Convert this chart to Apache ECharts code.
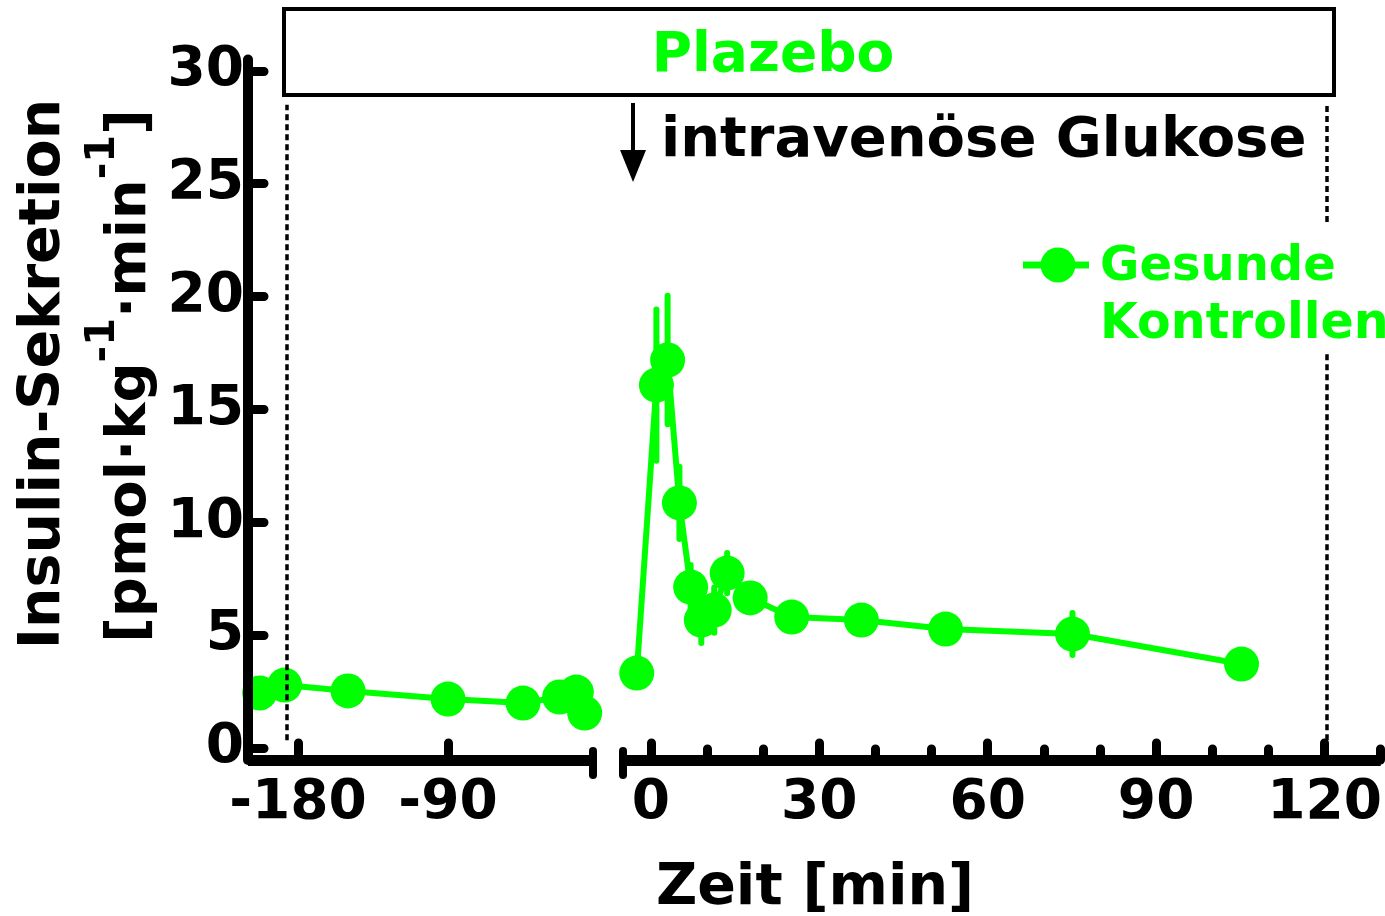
<!DOCTYPE html>
<html>
<head>
<meta charset="utf-8">
<script src="https://cdn.jsdelivr.net/npm/echarts@6/dist/echarts.min.js"></script>
<style>
html,body{margin:0;padding:0;background:#fff;}
#c{width:1385px;height:916px;}
</style>
</head>
<body>
<div id="c"></div>
<script>
// ---- data ----
const leftTime  = [-203, -188, -150, -90, -45, -23, -13, -8];
const leftValue = [2.44, 2.79, 2.53, 2.17, 1.99, 2.26, 2.48, 1.55];
const leftErr   = [0.3, 0.3, 0.3, 0.3, 0.3, 0.3, 0.3, 0.3];
const rightTime  = [-2.5, 1, 3, 5.1, 7.1, 9, 11.3, 13.6, 17.7, 25.1, 37.5, 52.5, 75.1, 105.2];
const rightValue = [3.32, 16.08, 17.19, 10.86, 7.13, 5.67, 6.11, 7.75, 6.65, 5.80, 5.67, 5.27, 5.05, 3.72];
const rightErr   = [0.4, 3.35, 2.85, 1.6, 0.98, 1.02, 1.0, 0.89, 0.5, 0.4, 0.4, 0.4, 0.93, 0.4];
const yTicks = [0, 5, 10, 15, 20, 25, 30];
const leftXTicks = [-180, -90];
const rightXMajor = [0, 30, 60, 90, 120];
const rightXMinor = [10, 20, 40, 50, 70, 80, 100, 110, 130];
const seriesName = 'Gesunde\nKontrollen';

const GREEN = '#00ff00';
const FONT = '"DejaVu Sans", Verdana, sans-serif';

const chart = echarts.init(document.getElementById('c'), null, {renderer: 'canvas'});

function errItem(params, api) {
  const x = api.value(0), y = api.value(1), e = api.value(2);
  const p1 = api.coord([x, y + e]);
  const p2 = api.coord([x, y - e]);
  return {type: 'line', shape: {x1: p1[0], y1: p1[1], x2: p2[0], y2: p2[1]},
          style: {stroke: GREEN, lineWidth: 6, lineCap: 'round'}};
}

const labelStyle = {fontSize: 55, fontWeight: 'bold', fontFamily: FONT, color: '#000'};
const yMin = -0.53, yMax = 30.5;

const option = {
  animation: false,
  backgroundColor: '#fff',
  grid: [
    {left: 248, top: 59.6, width: 345, height: 700.4},
    {left: 622.7, top: 59.6, width: 763.9, height: 700.4}
  ],
  xAxis: [
    {gridIndex: 0, type: 'value', min: -210, max: -3, position: 'bottom',
     axisLine: {onZero: false, lineStyle: {color: '#000', width: 11, cap: 'butt'}},
     axisTick: {inside: true, length: 17, customValues: leftXTicks, lineStyle: {color: '#000', width: 9, cap: 'round'}},
     axisLabel: Object.assign({customValues: leftXTicks, margin: 16}, labelStyle),
     splitLine: {show: false}, z: 5},
    {gridIndex: 1, type: 'value', min: -5, max: 130, position: 'bottom', offset: 0,
     axisLine: {onZero: false, lineStyle: {color: '#000', width: 11, cap: 'butt'}},
     axisTick: {inside: true, length: 17, customValues: rightXMajor, lineStyle: {color: '#000', width: 9, cap: 'round'}},
     axisLabel: Object.assign({customValues: rightXMajor, margin: 16}, labelStyle),
     splitLine: {show: false}, z: 5},
    {gridIndex: 1, type: 'value', min: -5, max: 130, position: 'bottom', offset: 0,
     axisLine: {show: false, onZero: false},
     axisTick: {inside: true, length: 11, customValues: rightXMinor, lineStyle: {color: '#000', width: 9, cap: 'round'}},
     axisLabel: {show: false},
     splitLine: {show: false}, z: 5}
  ],
  yAxis: [
    {gridIndex: 0, type: 'value', min: yMin, max: yMax,
     axisLine: {onZero: false, lineStyle: {color: '#000', width: 10, cap: 'round'}},
     axisTick: {inside: true, length: 16, customValues: yTicks, lineStyle: {color: '#000', width: 9, cap: 'round'}},
     axisLabel: Object.assign({customValues: yTicks, margin: 4}, labelStyle),
     splitLine: {show: false}, z: 5},
    {gridIndex: 1, type: 'value', min: yMin, max: yMax, show: false, splitLine: {show: false}}
  ],
  series: [
    {type: 'custom', xAxisIndex: 0, yAxisIndex: 0, renderItem: errItem, z: 2,
     encode: {x: 0, y: 1}, data: leftTime.map((t, i) => [t, leftValue[i], leftErr[i]])},
    {type: 'custom', xAxisIndex: 1, yAxisIndex: 1, renderItem: errItem, z: 2,
     encode: {x: 0, y: 1}, data: rightTime.map((t, i) => [t, rightValue[i], rightErr[i]])},
    {name: seriesName, type: 'line', xAxisIndex: 0, yAxisIndex: 0, z: 3, clip: false,
     symbol: 'circle', symbolSize: 35,
     lineStyle: {color: GREEN, width: 6}, itemStyle: {color: GREEN},
     data: leftTime.map((t, i) => [t, leftValue[i]]),
     markLine: {silent: true, symbol: 'none', label: {show: false},
       lineStyle: {color: '#000', width: 3.5, type: [6, 4]},
       data: [[{coord: [-187, 0.35]}, {coord: [-187, 28.5]}]]}},
    {name: seriesName, type: 'line', xAxisIndex: 1, yAxisIndex: 1, z: 3, clip: false,
     symbol: 'circle', symbolSize: 35,
     lineStyle: {color: GREEN, width: 6}, itemStyle: {color: GREEN},
     data: rightTime.map((t, i) => [t, rightValue[i]]),
     markLine: {silent: true, symbol: 'none', label: {show: false},
       lineStyle: {color: '#000', width: 3.5, type: [6, 4]},
       data: [[{coord: [120.3, 0.35]}, {coord: [120.3, 17.5]}],
              [{coord: [120.3, 23.3]}, {coord: [120.3, 28.6]}]]}}
  ],
  graphic: [
    {type: 'rect', z: 10, shape: {x: 284, y: 9, width: 1050, height: 86},
     style: {fill: '#fff', stroke: '#000', lineWidth: 4}},
    {type: 'text', z: 11, x: 773, y: 57,
     style: {text: 'Plazebo', fill: GREEN, fontSize: 55, fontWeight: 'bold', fontFamily: FONT, align: 'center', verticalAlign: 'middle'}},
    {type: 'line', z: 11, shape: {x1: 633, y1: 103, x2: 633, y2: 155}, style: {stroke: '#000', lineWidth: 4}},
    {type: 'polygon', z: 11, shape: {points: [[620, 150], [646, 150], [633, 182]]}, style: {fill: '#000'}},
    {type: 'text', z: 11, x: 661, y: 141,
     style: {text: 'intravenöse Glukose', fill: '#000', fontSize: 56, fontWeight: 'bold', fontFamily: FONT, align: 'left', verticalAlign: 'middle'}},
    // legend
    {type: 'line', z: 11, shape: {x1: 1023, y1: 265, x2: 1089, y2: 265}, style: {stroke: GREEN, lineWidth: 7}},
    {type: 'circle', z: 11, shape: {cx: 1058, cy: 265, r: 17.5}, style: {fill: GREEN}},
    {type: 'text', z: 11, x: 1100, y: 268,
     style: {text: 'Gesunde', fill: GREEN, fontSize: 48, fontWeight: 'bold', fontFamily: FONT, align: 'left', verticalAlign: 'middle'}},
    {type: 'text', z: 11, x: 1100, y: 325,
     style: {text: 'Kontrollen', fill: GREEN, fontSize: 49, fontWeight: 'bold', fontFamily: FONT, align: 'left', verticalAlign: 'middle'}},
    // axis break caps
    {type: 'line', z: 11, shape: {x1: 593, y1: 751, x2: 593, y2: 775}, style: {stroke: '#000', lineWidth: 8, lineCap: 'round'}},
    {type: 'line', z: 11, shape: {x1: 623, y1: 751, x2: 623, y2: 775}, style: {stroke: '#000', lineWidth: 8, lineCap: 'round'}},
    // axis titles
    {type: 'text', z: 11, x: 815, y: 889,
     style: {text: 'Zeit [min]', fill: '#000', fontSize: 57, fontWeight: 'bold', fontFamily: FONT, align: 'center', verticalAlign: 'middle'}},
    {type: 'text', z: 11, x: 44, y: 374, rotation: Math.PI / 2,
     style: {text: 'Insulin-Sekretion', fill: '#000', fontSize: 57, fontWeight: 'bold', fontFamily: FONT, align: 'center', verticalAlign: 'middle'}},
    {type: 'text', z: 11, x: 121, y: 376, rotation: Math.PI / 2,
     style: {text: '{m|[pmol·kg}{s|-1}{m|·min}{s|-1}{m|]}', fill: '#000', fontWeight: 'bold', fontFamily: FONT,
       align: 'center', verticalAlign: 'middle',
       rich: {
         m: {fontSize: 56, fontWeight: 'bold', fontFamily: FONT, fill: '#000', lineHeight: 74, verticalAlign: 'bottom'},
         s: {fontSize: 40, fontWeight: 'bold', fontFamily: FONT, fill: '#000', lineHeight: 40, verticalAlign: 'top'}
       }}}
  ]
};
chart.setOption(option);
</script>
</body>
</html>
